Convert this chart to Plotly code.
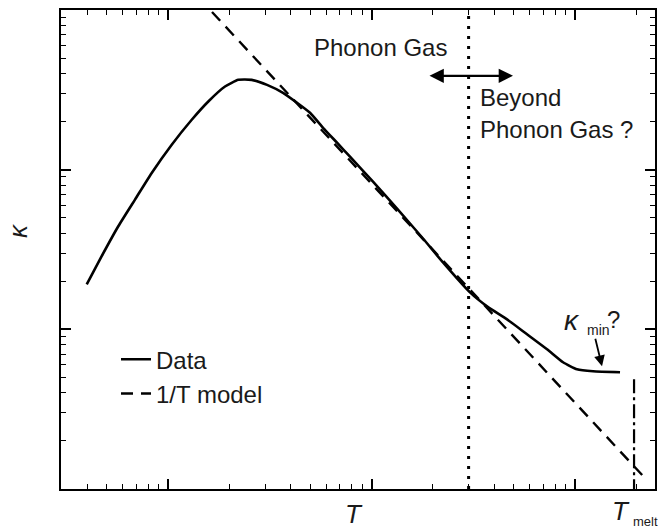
import numpy as np
import plotly.graph_objects as go

# ---- data (arbitrary units, log-log) ----
T_data = [3.987, 4.722, 5.698, 6.883, 8.317, 10.43, 13.08, 15.78, 19.06, 22.16, 25.78,
          30.66, 36.74, 43.05, 49.86, 57.78, 67.70, 78.39, 101.7, 133.5, 179.1,
          224.5, 304.8, 369.5, 463.5, 580.9, 728.7, 873.0, 1023, 1226, 1664]
kappa_data = [19.11, 28.72, 44.21, 64.94, 95.37, 143.3, 205.4, 267.3, 331.6, 365.2, 365.2,
              339.8, 302.9, 262.3, 227.1, 183.0, 147.5, 120.6, 84.14, 57.05, 37.05,
              26.23, 17.03, 13.93, 11.55, 9.31, 7.50, 6.22, 5.62, 5.46, 5.39]

T_model = [16.45, 2208]
kappa_model = [971.6, 1.17]

T_boundary = [300, 300]
kappa_boundary = [1, 1000]

T_melt = [1950, 1950]
kappa_melt = [4.87, 1]

FONT = "Arial, Liberation Sans, sans-serif"
INK = "#1a1a1a"

fig = go.Figure()
fig.add_trace(go.Scatter(x=T_data, y=kappa_data, mode="lines", name="Data",
                         line=dict(color="black", width=2.6, shape="spline", smoothing=0.5)))
fig.add_trace(go.Scatter(x=T_model, y=kappa_model, mode="lines", name="1/T model",
                         line=dict(color="black", width=2.4, dash="12px,8px")))
fig.add_trace(go.Scatter(x=T_boundary, y=kappa_boundary, mode="lines", showlegend=False,
                         line=dict(color="black", width=3, dash="3px,7px")))
fig.add_trace(go.Scatter(x=T_melt, y=kappa_melt, mode="lines", showlegend=False,
                         line=dict(color="black", width=2.2, dash="14px,4px,3px,4px")))

ann = []
# double-headed arrow
ann.append(dict(x=np.log10(495.8), y=np.log10(386.8), ax=np.log10(189.5), ay=np.log10(386.8),
                xref="x", yref="y", axref="x", ayref="y", text="", showarrow=True,
                arrowhead=2, startarrowhead=2, arrowside="end+start", arrowsize=1.3,
                startarrowsize=1.3, arrowwidth=2.2, arrowcolor="black"))
# kappa_min arrow
ann.append(dict(x=3.1327, y=0.76875, ax=3.098, ay=0.95, xref="x", yref="y", axref="x", ayref="y",
                text="", showarrow=True, arrowhead=2, arrowsize=1.2, arrowwidth=1.8,
                arrowcolor="black"))
txt = dict(showarrow=False, font=dict(family=FONT, size=24, color=INK))
small = dict(showarrow=False, font=dict(family=FONT, size=14, color=INK))
ann.append(dict(x=1.7076, y=2.7625, xref="x", yref="y", text="Phonon Gas", xanchor="left", **txt))
ann.append(dict(x=2.5233, y=2.45, xref="x", yref="y", text="Beyond", xanchor="left", **txt))
ann.append(dict(x=2.5233, y=2.25, xref="x", yref="y", text="Phonon Gas ?", xanchor="left", **txt))
ann.append(dict(x=2.985, y=1.056, xref="x", yref="y", text="<i>κ</i>", xanchor="center",
                showarrow=False, font=dict(family=FONT, size=28, color=INK)))
ann.append(dict(x=3.05, y=0.99375, xref="x", yref="y", text="min", xanchor="left", **small))
ann.append(dict(x=3.19, y=1.0625, xref="x", yref="y", text="?", xanchor="center", **txt))
# axis titles
ann.append(dict(x=0.4933, y=-0.052, xref="paper", yref="paper", text="<i>T</i>",
                xanchor="center", yanchor="middle", showarrow=False,
                font=dict(family=FONT, size=26, color=INK)))
ann.append(dict(x=-0.0724, y=0.5407, xref="paper", yref="paper", text="<i>κ</i>",
                textangle=-90, xanchor="center", yanchor="middle", showarrow=False,
                font=dict(family=FONT, size=26, color=INK)))
# T_melt label
ann.append(dict(x=0.943, y=-0.046, xref="paper", yref="paper", text="<i>T</i>",
                xanchor="center", yanchor="middle", showarrow=False,
                font=dict(family=FONT, size=26, color=INK)))
ann.append(dict(x=0.96, y=-0.067, xref="paper", yref="paper", text="melt",
                xanchor="left", yanchor="middle", showarrow=False,
                font=dict(family=FONT, size=13, color=INK)))

axis_common = dict(type="log", showgrid=False, zeroline=False, showticklabels=False,
                   showline=True, linecolor="black", linewidth=2, mirror="ticks",
                   ticks="inside", ticklen=10, tickwidth=1.6, tickcolor="black", dtick=1,
                   automargin=False,
                   minor=dict(ticks="inside", ticklen=5, tickwidth=1.4, tickcolor="black",
                              dtick="D1", showgrid=False))

fig.update_layout(
    width=658, height=529,
    margin=dict(l=61, r=3, t=10, b=40),
    paper_bgcolor="white", plot_bgcolor="white",
    font=dict(family=FONT, size=24, color=INK),
    showlegend=True,
    legend=dict(x=0.0926, y=0.317, xanchor="left", yanchor="top", bgcolor="rgba(0,0,0,0)",
                font=dict(family=FONT, size=24, color=INK), tracegroupgap=0),
    xaxis=dict(range=[0.4742, 3.393], title=dict(text=""), **axis_common),
    yaxis=dict(range=[0, 3], title=dict(text=""), **axis_common),
    annotations=ann,
)

# remove the default 8 px page margin so the figure fills the window exactly
fig.write_html("out.html", config={"displayModeBar": False},
               post_script="document.body.style.margin='0';document.body.style.overflow='hidden';")
